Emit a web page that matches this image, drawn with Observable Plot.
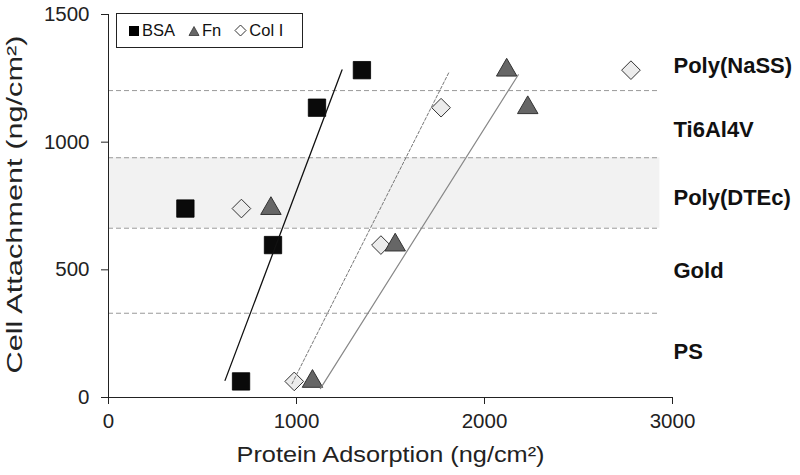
<!DOCTYPE html>
<html>
<head>
<meta charset="utf-8">
<script src="https://cdn.jsdelivr.net/npm/d3@7"></script>
<script src="https://cdn.jsdelivr.net/npm/@observablehq/plot@0.6"></script>
<style>
  html, body { margin: 0; padding: 0; background: #fff; }
  #wrap { position: relative; width: 800px; height: 475px; font-family: "Liberation Sans", Arial, sans-serif; }
  #legend { position: absolute; left: 116px; top: 13px; width: 187px; height: 35px; border: 1px solid #222; background: #fff;
            display: flex; align-items: center; font-size: 16.5px; color: #111; box-sizing: border-box; padding-left: 11px;
            white-space: nowrap; overflow: visible; }
  #legend .item { display: flex; align-items: center; margin-right: 13px; flex-shrink: 0; white-space: nowrap; }
  #legend svg { margin-right: 2px; flex-shrink: 0; }
</style>
</head>
<body>
<div id="wrap"></div>
<script>
// Materials (surfaces) and their cell attachment (ng/cm2)
const materials = ["PS", "Gold", "Poly(DTEc)", "Ti6Al4V", "Poly(NaSS)"];
const cellAttachment = [63, 597, 740, 1135, 1282];
// Protein adsorption (ng/cm2) per material
const bsa = [705, 875, 409, 1109, 1348];
const fn = [1085, 1525, 864, 2230, 2118];
const colI = [988, 1449, 707, 1769, 2779];
// Linear fit line end points [adsorption, attachment]
const bsaFit = [[620, 67], [1242, 1283]];
const fnFit = [[1127, 35], [2180, 1264]];
const colFit = [[976, 54], [1814, 1278]];
// Material region boundaries (attachment) and label positions
const boundaries = [330, 663, 939, 1202];
const gridEnd = 2933;
const labelY = [180, 497, 783, 1046, 1300];
// Axis ticks
const xTicks = [0, 1000, 2000, 3000];
const yTicks = [0, 500, 1000, 1500];
const seriesNames = ["BSA", "Fn", "Col I"];

const pts = (xs) => xs.map((x, i) => ({x, y: cellAttachment[i], m: materials[i]}));
const fit = (arr) => arr.map(([x, y]) => ({x, y}));
const labels = materials.map((m, i) => ({m, y: labelY[i]}));

const plot = Plot.plot({
  width: 800,
  height: 475,
  marginLeft: 108,
  marginRight: 128,
  marginTop: 14,
  marginBottom: 78,
  style: {fontFamily: "'Liberation Sans', Arial, sans-serif", fontSize: "20.5px", color: "#222", background: "#fff"},
  x: {domain: [0, 3000], ticks: xTicks, tickSize: 7, tickPadding: 9, tickFormat: d => String(d), label: null},
  y: {domain: [0, 1500], ticks: yTicks, tickSize: 7, tickPadding: 12, tickFormat: d => String(d), label: null},
  marks: [
    Plot.rect([0], {x1: 0, x2: gridEnd, y1: boundaries[1], y2: boundaries[2], fill: "#f2f2f2"}),
    Plot.ruleY(boundaries, {x1: 0, x2: gridEnd, stroke: "#999", strokeWidth: 1, strokeDasharray: "5,3"}),
    Plot.ruleX([0], {stroke: "#222"}),
    Plot.ruleY([0], {stroke: "#222"}),
    Plot.dot(pts(bsa), {x: "x", y: "y", symbol: "square", r: 9.8, fill: "#0a0a0a", stroke: "#000", strokeWidth: 0.8}),
    Plot.dot(pts(colI), {x: "x", y: "y", symbol: "diamond2", r: 8.4, fill: "#ececec", stroke: "#333", strokeWidth: 1}),
    Plot.dot(pts(fn), {x: "x", y: "y", symbol: "triangle", r: 7.6, fill: "#666", stroke: "#333", strokeWidth: 1}),
    Plot.line(fit(bsaFit), {x: "x", y: "y", stroke: "#111", strokeWidth: 1.3}),
    Plot.line(fit(colFit), {x: "x", y: "y", stroke: "#777", strokeWidth: 1, strokeDasharray: "3,2"}),
    Plot.line(fit(fnFit), {x: "x", y: "y", stroke: "#888", strokeWidth: 1.2}),
    Plot.text(labels, {x: () => 3000, y: "y", text: "m", textAnchor: "start", dx: 1, fontWeight: "bold", fontSize: 22, fill: "#111", letterSpacing: "0.3px"}),
    Plot.text(["Cell Attachment (ng/cm²)"], {frameAnchor: "bottom-left", textAnchor: "start", dx: -87, dy: -24, rotate: -90, fontSize: 22, fill: "#222"}),
    Plot.text(["Protein Adsorption (ng/cm²)"], {frameAnchor: "bottom-left", textAnchor: "start", dx: 128, dy: 64, fontSize: 22, fill: "#222"})
  ]
});

const wrap = document.getElementById("wrap");
wrap.appendChild(plot);

// stretch axis titles to the reference's wide lettering
plot.querySelectorAll("text").forEach(t => {
  if (t.textContent.startsWith("Cell Attachment")) { t.setAttribute("textLength", 338); t.setAttribute("lengthAdjust", "spacingAndGlyphs"); }
  if (t.textContent.startsWith("Protein Adsorption")) { t.setAttribute("textLength", 308); t.setAttribute("lengthAdjust", "spacingAndGlyphs"); }
});

// legend
const symbols = {
  "BSA": '<svg width="12" height="12"><rect x="1" y="1" width="10" height="10" fill="#000"/></svg>',
  "Fn": '<svg width="12" height="12"><path d="M6,1.5 L11,10.5 L1,10.5 Z" fill="#666" stroke="#333" stroke-width="0.8"/></svg>',
  "Col I": '<svg width="13" height="13"><path d="M6.5,1 L12,6.5 L6.5,12 L1,6.5 Z" fill="#fff" stroke="#333" stroke-width="1"/></svg>'
};
const legend = document.createElement("div");
legend.id = "legend";
legend.innerHTML = seriesNames.map(n => `<span class="item">${symbols[n]}<span>${n}</span></span>`).join("");
wrap.appendChild(legend);
</script>
</body>
</html>
